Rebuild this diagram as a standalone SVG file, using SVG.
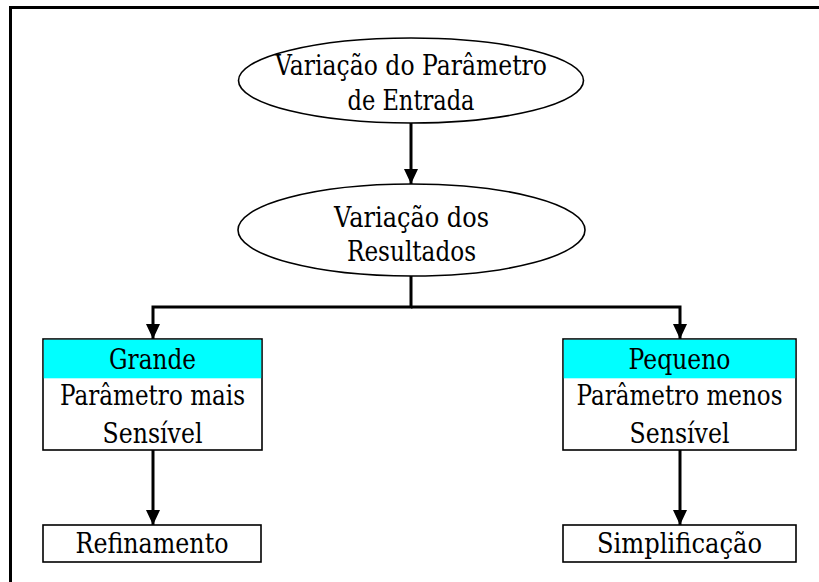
<svg xmlns="http://www.w3.org/2000/svg" width="819" height="582" viewBox="0 0 819 582">
<style>
  .t { font-family: "DejaVu Serif", serif; font-size: 27px; fill: #000; text-anchor: middle; }
  .shape { fill: #fff; stroke: #000; stroke-width: 1.6; }
  .head { fill: #00ffff; stroke: none; }
  .conn { fill: none; stroke: #000; stroke-width: 3; }
  .frame { fill: none; stroke: #000; stroke-width: 3; }
</style>
<defs>
  <marker id="arrow" markerUnits="userSpaceOnUse" markerWidth="16" markerHeight="16" viewBox="0 0 16 16" refX="15" refY="8" orient="auto">
    <path d="M0,1 L15,8 L0,15 Z" fill="#000"/>
  </marker>
</defs>
<rect width="819" height="582" fill="#fff"/>
<path class="frame" d="M10.5,582 V7.5 H819"/>

<g id="node-input">
  <ellipse class="shape" cx="411" cy="80.5" rx="172.5" ry="42.5"/>
  <text class="t" x="411" y="75" textLength="272" lengthAdjust="spacingAndGlyphs">Variação do Parâmetro</text>
  <text class="t" x="411" y="110" textLength="127" lengthAdjust="spacingAndGlyphs">de Entrada</text>
</g>
<g id="node-results">
  <ellipse class="shape" cx="411.5" cy="230" rx="173.5" ry="46"/>
  <text class="t" x="411.5" y="227" textLength="155" lengthAdjust="spacingAndGlyphs">Variação dos</text>
  <text class="t" x="411.5" y="261" textLength="129" lengthAdjust="spacingAndGlyphs">Resultados</text>
</g>
<g id="node-grande">
  <rect class="shape" x="43" y="339" width="219" height="111"/>
  <rect class="head" x="43.8" y="339.8" width="217.4" height="38.5"/>
  <text class="t" x="152.5" y="369" textLength="87" lengthAdjust="spacingAndGlyphs">Grande</text>
  <text class="t" x="152.5" y="405" textLength="185" lengthAdjust="spacingAndGlyphs">Parâmetro mais</text>
  <text class="t" x="152.5" y="443" textLength="100" lengthAdjust="spacingAndGlyphs">Sensível</text>
</g>
<g id="node-pequeno">
  <rect class="shape" x="563" y="339" width="233" height="111"/>
  <rect class="head" x="563.8" y="339.8" width="231.4" height="38.5"/>
  <text class="t" x="679.5" y="369" textLength="102" lengthAdjust="spacingAndGlyphs">Pequeno</text>
  <text class="t" x="679.5" y="405" textLength="206" lengthAdjust="spacingAndGlyphs">Parâmetro menos</text>
  <text class="t" x="679.5" y="443" textLength="100" lengthAdjust="spacingAndGlyphs">Sensível</text>
</g>
<g id="node-refinamento">
  <rect class="shape" x="43" y="525" width="218" height="37"/>
  <text class="t" x="152" y="553" textLength="153" lengthAdjust="spacingAndGlyphs">Refinamento</text>
</g>
<g id="node-simplificacao">
  <rect class="shape" x="563" y="525" width="233" height="37"/>
  <text class="t" x="679.5" y="553" textLength="165" lengthAdjust="spacingAndGlyphs">Simplificação</text>
</g>

<g id="connectors">
  <path class="conn" d="M411,123 V184" marker-end="url(#arrow)"/>
  <path class="conn" d="M411,276 V307 H153 V339" marker-end="url(#arrow)"/>
  <path class="conn" d="M411,307 H680 V339" marker-end="url(#arrow)"/>
  <path class="conn" d="M153,450 V525" marker-end="url(#arrow)"/>
  <path class="conn" d="M680,450 V525" marker-end="url(#arrow)"/>
</g>
</svg>
